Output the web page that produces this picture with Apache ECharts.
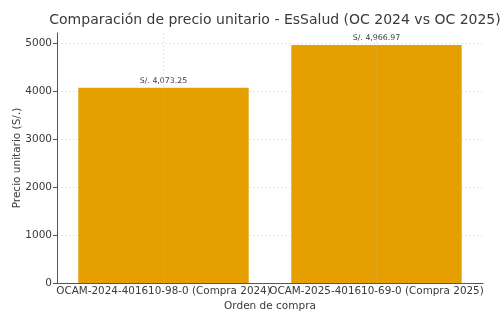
<!DOCTYPE html>
<html><head><meta charset="utf-8">
<script src="https://cdn.jsdelivr.net/npm/echarts@6/dist/echarts.min.js"></script>
<style>html,body{margin:0;padding:0;background:#fff}#c{width:500px;height:316px}</style>
</head><body><div id="c"></div>
<script>
const categories = ["OCAM-2024-401610-98-0 (Compra 2024)", "OCAM-2025-401610-69-0 (Compra 2025)"];
const prices = [4073.25, 4966.97];
const yTicks = [0, 1000, 2000, 3000, 4000, 5000];
const title = "Comparación de precio unitario - EsSalud (OC 2024 vs OC 2025)";

const font = "DejaVu Sans";
const chart = echarts.init(document.getElementById('c'), null, {renderer: 'canvas'});
const yMax = Math.max(...prices) * 1.05;
const gridColors = yTicks.map(() => '#e6e6e6').concat(['transparent']);
chart.setOption({
  animation: false,
  textStyle: {fontFamily: font},
  title: {text: title, left: 270, textAlign: 'center', top: 8,
    textStyle: {fontFamily: font, fontSize: 14, fontWeight: 'normal', color: '#3a3a3a'}},
  grid: {left: 57, right: 17, top: 33, bottom: 33, outerBoundsMode: 'none', containLabel: false},
  xAxis: {type: 'category', data: categories,
    name: 'Orden de compra', nameLocation: 'middle', nameGap: 18, nameMoveOverlap: false,
    nameTextStyle: {fontFamily: font, fontSize: 10.5, color: '#3a3a3a'},
    axisLine: {lineStyle: {color: '#555', width: 1}},
    axisTick: {alignWithLabel: true, length: 4, lineStyle: {color: '#555'}},
    axisLabel: {interval: 0, fontFamily: font, fontSize: 10.4, color: '#3a3a3a', margin: 3},
    splitLine: {show: false}},
  yAxis: {type: 'value', min: 0, max: yMax, interval: 1000,
    name: 'Precio unitario (S/.)', nameLocation: 'middle', nameGap: 34, nameMoveOverlap: false,
    nameTextStyle: {fontFamily: font, fontSize: 10.5, color: '#3a3a3a'},
    axisLine: {show: true, lineStyle: {color: '#555', width: 1}},
    axisTick: {show: true, length: 4, lineStyle: {color: '#555'}},
    axisLabel: {showMaxLabel: false, fontFamily: font, fontSize: 10.5, color: '#3a3a3a', margin: 5,
      formatter: v => yTicks.includes(v) ? String(v) : ''},
    splitLine: {show: true, lineStyle: {color: gridColors, type: [2, 2], width: 1}}},
  series: [{type: 'bar', data: prices, barWidth: '80%',
    itemStyle: {color: '#E69F00'},
    label: {show: true, position: 'top', distance: 3, fontFamily: font, fontSize: 7.8, color: '#3a3a3a',
      formatter: p => 'S/. ' + p.value.toLocaleString('en-US', {minimumFractionDigits: 2, maximumFractionDigits: 2})},
    markLine: {silent: true, symbol: 'none', label: {show: false},
      lineStyle: {color: 'rgba(190,190,190,0.35)', type: [2, 2], width: 1},
      data: categories.map(c => ({xAxis: c}))}
  }]
});
</script></body></html>
